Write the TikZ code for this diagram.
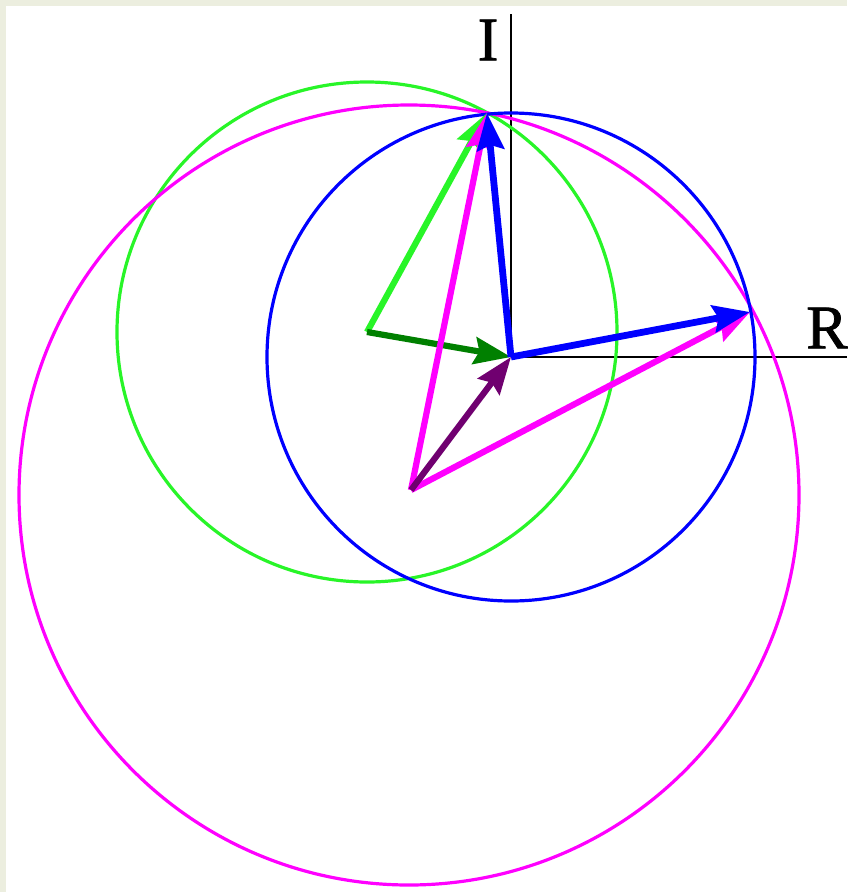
\documentclass[tikz,border=0pt]{standalone}
\usepackage{fontspec}
\setmainfont{Liberation Serif}
\newfontfamily\lblfont[FakeBold=1.2]{Liberation Serif}
\usetikzlibrary{arrows.meta}
\definecolor{bgbeige}{HTML}{ECEEDF}
\definecolor{lgreen}{RGB}{40,245,40}
\definecolor{dgreen}{RGB}{0,128,0}
\definecolor{mag}{RGB}{255,0,255}
\definecolor{purp}{RGB}{112,0,112}
\begin{document}
\begin{tikzpicture}[x=1pt,y=-1pt,
  circ/.style={line width=3.2pt},
  vec/.style={line width=6.2pt,line join=round,-{Stealth[length=37pt,width=27pt,inset=5pt]}},
  axis/.style={line width=2.8pt,black},
  lbl/.style={font=\lblfont\fontsize{62}{62}\selectfont,inner sep=0pt}]
\useasboundingbox (0,0) rectangle (847,892);
\fill[bgbeige] (0,0) rectangle (847,892);
\fill[white] (6,6) rectangle (847,892);
\coordinate (O) at (511,357);
\coordinate (G) at (367,332);
\coordinate (M) at (411,490);
\coordinate (A) at (487,113);
\coordinate (B) at (750,312);
\coordinate (Itop) at (511,14);
\coordinate (Rend) at (847,357);
% axes
\draw[axis] (O) -- (Itop);
\draw[axis] (O) -- (Rend);
\node[lbl] (Ilab) at (488,40) {I};
\node[lbl] (Rlab) at (827,328) {R};
% circles
\draw[circ,lgreen] (G) circle[radius=250];
\draw[circ,mag] (409,495) circle[radius=390];
\draw[circ,blue] (O) circle[radius=244];
% vectors
\draw[vec,lgreen] (G) -- (A);
\draw[vec,dgreen] (G) -- (O);
\draw[vec,mag] (M) -- (A);
\draw[vec,mag] (M) -- (B);
\draw[vec,purp] (M) -- (O);
\draw[vec,blue,line width=6.8pt] (O) -- (A);
\draw[vec,blue,line width=6.8pt] (O) -- (B);
\end{tikzpicture}
\end{document}
